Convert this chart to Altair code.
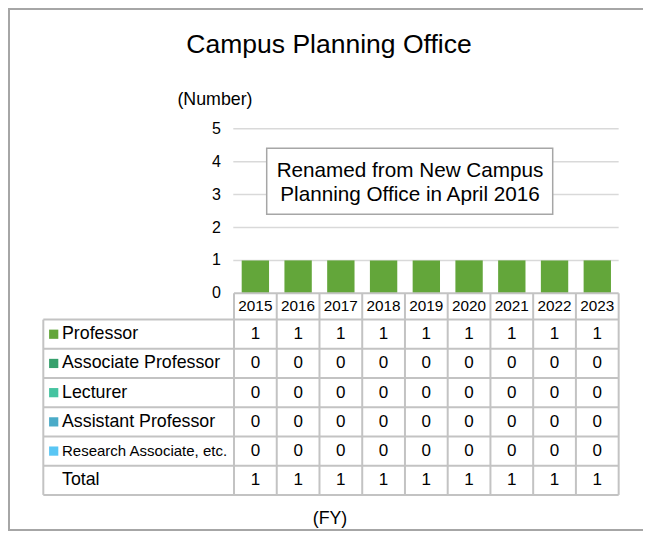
import altair as alt
import pandas as pd

# ---------------- data ----------------
years = ["2015", "2016", "2017", "2018", "2019", "2020", "2021", "2022", "2023"]
categories = ["Professor", "Associate Professor", "Lecturer",
              "Assistant Professor", "Research Associate, etc."]
professor = [1, 1, 1, 1, 1, 1, 1, 1, 1]
associate_professor = [0, 0, 0, 0, 0, 0, 0, 0, 0]
lecturer = [0, 0, 0, 0, 0, 0, 0, 0, 0]
assistant_professor = [0, 0, 0, 0, 0, 0, 0, 0, 0]
research_associate = [0, 0, 0, 0, 0, 0, 0, 0, 0]
totals = [1, 1, 1, 1, 1, 1, 1, 1, 1]
y_ticks = [0, 1, 2, 3, 4, 5]
title_text = "Campus Planning Office"
note_lines = ["Renamed from New Campus", "Planning Office in April 2016"]

series = [professor, associate_professor, lecturer, assistant_professor, research_associate]
colors = ["#63a63a", "#36a06c", "#45c3a0", "#4aabc8", "#59c6f4"]

# ---------------- layout ----------------
W, H = 635, 523
COL_PX = 42.74     # width of a year column
X0_PX = 226.0      # svg x of left edge of first year column
UNIT_PX = 32.9     # pixels per count on y
Y0_PX = 285.3      # svg y of value 0

x_dom = [-X0_PX / COL_PX, (W - X0_PX) / COL_PX]
y_dom = [(Y0_PX - H) / UNIT_PX, Y0_PX / UNIT_PX]
xs = alt.Scale(domain=x_dom, nice=False, zero=False)
ys = alt.Scale(domain=y_dom, nice=False, zero=False)


def px_x(page_x):
    return (page_x - 8 - X0_PX) / COL_PX


def px_y(page_y):
    return (Y0_PX - (page_y - 8)) / UNIT_PX


FONT = "Liberation Sans"
n = len(years)
HEADER_H = 0.8
ROW_H = 0.888
LABEL_LEFT = px_x(43.3)
row_labels = categories + ["Total"]
n_rows = len(row_labels)
table_bottom = -HEADER_H - ROW_H * n_rows


def row_center(k):
    return -HEADER_H - ROW_H * (k + 0.5)


X = lambda f: alt.X(f"{f}:Q", scale=xs, axis=None)
Y = lambda f: alt.Y(f"{f}:Q", scale=ys, axis=None)

# gridlines
grid_df = pd.DataFrame({"v": [t for t in y_ticks if t > 0]})
grid_df["x0"] = px_x(233.3)
grid_df["x1"] = n
grid = alt.Chart(grid_df).mark_rule(color="#d9d9d9", strokeWidth=1.5).encode(
    x=X("x0"), x2="x1", y=Y("v"))

# bars
bar_df = pd.DataFrame({"idx": list(range(n)), "year": years, "value": professor})
bars = alt.Chart(bar_df).transform_calculate(
    xa="datum.idx + 0.18", xb="datum.idx + 0.82", base="0"
).mark_rect(color=colors[0]).encode(
    x=X("xa"), x2="xb", y=Y("base"), y2="value")

# y tick labels
tick_df = pd.DataFrame({"v": y_ticks})
tick_df["x"] = px_x(221)
ticks = alt.Chart(tick_df).mark_text(
    align="right", baseline="middle", font=FONT, fontSize=16, color="#000000"
).encode(x=X("x"), y=Y("v"), text=alt.Text("v:Q"))

# table lines
segs = []
segs.append({"x0": 0, "x1": n, "y0": 0, "y1": 0})
for k in range(n_rows + 1):
    yy = -HEADER_H - ROW_H * k
    segs.append({"x0": LABEL_LEFT, "x1": n, "y0": yy, "y1": yy})
segs.append({"x0": LABEL_LEFT, "x1": LABEL_LEFT, "y0": -HEADER_H, "y1": table_bottom})
for c in range(n + 1):
    segs.append({"x0": c, "x1": c, "y0": 0, "y1": table_bottom})
seg_df = pd.DataFrame(segs)
lines = alt.Chart(seg_df).mark_rule(color="#c3c3c3", strokeWidth=2).encode(
    x=X("x0"), x2="x1", y=Y("y0"), y2="y1")

# header years
hdr_df = pd.DataFrame({"year": years, "xc": [i + 0.5 for i in range(n)]})
hdr_df["yc"] = -HEADER_H / 2
header = alt.Chart(hdr_df).mark_text(
    baseline="middle", font=FONT, fontSize=15.3, color="#000000"
).encode(x=X("xc"), y=Y("yc"), text="year:N")

# cell values
cells = []
for k, (lab, vals) in enumerate(zip(row_labels, series + [totals])):
    for i, v in enumerate(vals):
        cells.append({"xc": i + 0.5, "yc": row_center(k), "v": v})
cell_df = pd.DataFrame(cells)
cell_text = alt.Chart(cell_df).mark_text(
    baseline="middle", font=FONT, fontSize=17, color="#000000"
).encode(x=X("xc"), y=Y("yc"), text=alt.Text("v:Q"))

# row labels
lab_df = pd.DataFrame({"label": row_labels,
                       "yc": [row_center(k) for k in range(n_rows)]})
lab_df["xl"] = px_x(62)
labels = alt.Chart(lab_df).mark_text(
    align="left", baseline="middle", font=FONT, color="#000000"
).encode(
    x=X("xl"), y=Y("yc"), text="label:N",
    size=alt.condition(alt.datum.label == "Research Associate, etc.",
                       alt.value(15), alt.value(17.8)))

sq_df = pd.DataFrame({"label": categories,
                      "yc": [row_center(k) for k in range(len(categories))]})
sq_df["xs"] = px_x(53.7)
squares = alt.Chart(sq_df).mark_square(opacity=1, size=85).encode(
    x=X("xs"), y=Y("yc"),
    color=alt.Color("label:N", scale=alt.Scale(domain=categories, range=colors),
                    legend=None))

# annotation box
box_df = pd.DataFrame([{"x0": px_x(266.7), "x1": px_x(552.7),
                        "y0": px_y(148.3), "y1": px_y(214.3)}])
box = alt.Chart(box_df).mark_rect(fill="#ffffff", stroke="#a6a6a6", strokeWidth=1.5).encode(
    x=X("x0"), x2="x1", y=Y("y0"), y2="y1")
note_df = pd.DataFrame({"t": note_lines, "yc": [px_y(171), px_y(195)]})
note_df["xc"] = px_x(410)
note = alt.Chart(note_df).mark_text(
    baseline="middle", font=FONT, fontSize=20.7, color="#000000"
).encode(x=X("xc"), y=Y("yc"), text="t:N")

# titles
txt_df = pd.DataFrame([
    {"t": title_text, "xc": px_x(329), "yc": px_y(45), "s": "title"},
    {"t": "(Number)", "xc": px_x(215), "yc": px_y(100), "s": "lab"},
    {"t": "(FY)", "xc": px_x(330), "yc": px_y(519), "s": "lab"},
])
titles = alt.Chart(txt_df).mark_text(
    baseline="middle", font=FONT, color="#000000"
).encode(
    x=X("xc"), y=Y("yc"), text="t:N",
    size=alt.condition(alt.datum.s == "title", alt.value(26.5), alt.value(17.8)))

# outer frame
frame_c = "#a6a6a6"
frame_top = alt.Chart(bar_df).mark_rule(color=frame_c, strokeWidth=2).encode(
    x=alt.value(0), x2=alt.value(W), y=alt.value(1))
frame_left = alt.Chart(bar_df).mark_rule(color=frame_c, strokeWidth=2).encode(
    x=alt.value(1), y=alt.value(0), y2=alt.value(H))
frame_bottom = alt.Chart(bar_df).mark_rule(color=frame_c, strokeWidth=2).encode(
    x=alt.value(0), x2=alt.value(W), y=alt.value(H - 1))

chart = alt.layer(
    grid, bars, ticks, box, note, lines, header, cell_text, labels, squares,
    titles, frame_top, frame_left, frame_bottom
).properties(
    width=W, height=H, padding=0, autosize=alt.AutoSizeParams(type="none"),
    background="#ffffff"
).configure_view(stroke=None)

chart.save("out.html", embed_options={"renderer": "svg", "actions": False})
